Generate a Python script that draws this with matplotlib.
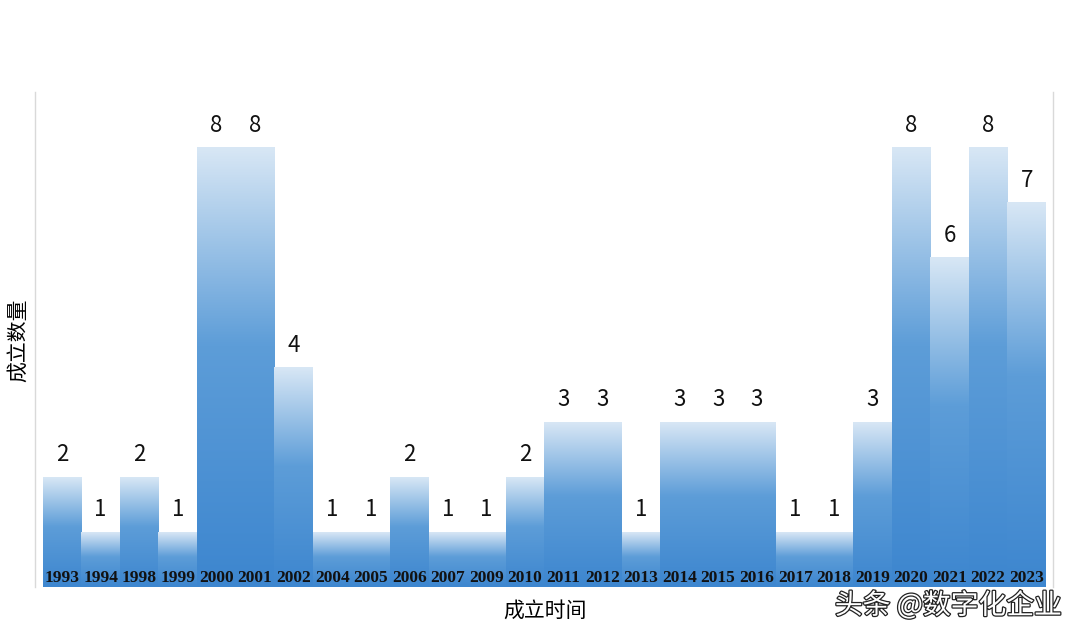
import matplotlib
matplotlib.use("Agg")
import matplotlib.pyplot as plt
import matplotlib.patheffects as pe
from matplotlib.colors import LinearSegmentedColormap
import numpy as np

plt.rcParams['font.family'] = ['Noto Sans CJK SC', 'DejaVu Sans']

# 成立年份 / 成立数量
years = ["1993", "1994", "1998", "1999", "2000", "2001", "2002", "2004", "2005",
         "2006", "2007", "2009", "2010", "2011", "2012", "2013", "2014", "2015",
         "2016", "2017", "2018", "2019", "2020", "2021", "2022", "2023"]
counts = [2, 1, 2, 1, 8, 8, 4, 1, 1, 2, 1, 1, 2, 3, 3, 1, 3, 3, 3, 1, 1, 3, 8, 6, 8, 7]

# 由下（深藍）到上（淺藍）的漸層
grad_cmap = LinearSegmentedColormap.from_list(
    "bar_grad", [(0.0, "#3d86cf"), (0.55, "#5d9dd8"), (1.0, "#d8e7f5")])
grad = np.linspace(0, 1, 256).reshape(-1, 1)

fig = plt.figure(figsize=(10.8, 6.39), dpi=100)
ax = fig.add_axes([0.0324, 0.0814, 0.9426, 0.7746])

x = np.arange(len(years))
for xi, v in zip(x, counts):
    ax.imshow(grad, cmap=grad_cmap, origin="lower", aspect="auto",
              extent=(xi - 0.5, xi + 0.5, 0, v), interpolation="bicubic", zorder=2)
    ax.text(xi, v + 0.40, str(v), ha="center", va="center", fontsize=16,
            color="#111111", zorder=4)
    ax.text(xi, 0.16, years[xi], ha="center", va="center", fontsize=12.5,
            family=["Liberation Serif"], fontweight="bold", color="#111111", zorder=4)

ax.set_xlim(-0.7, len(years) - 0.32)
ax.set_ylim(0, 9)
ax.set_xticks([])
ax.set_yticks([])
for side in ("top", "bottom"):
    ax.spines[side].set_visible(False)
for side in ("left", "right"):
    ax.spines[side].set_color("#d9d9d9")
    ax.spines[side].set_linewidth(1.0)

fig.text(0.0167, 0.468, "成立数量", rotation=90, ha="center", va="center", fontsize=15)
fig.text(0.505, 0.045, "成立时间", ha="center", va="center", fontsize=15)

fig.text(0.878, 0.052, "头条 @数字化企业", ha="center", va="center", fontsize=20,
         color="white",
         path_effects=[pe.withStroke(linewidth=1.8, foreground="#222222")])

fig.savefig("out.png", dpi=100)
